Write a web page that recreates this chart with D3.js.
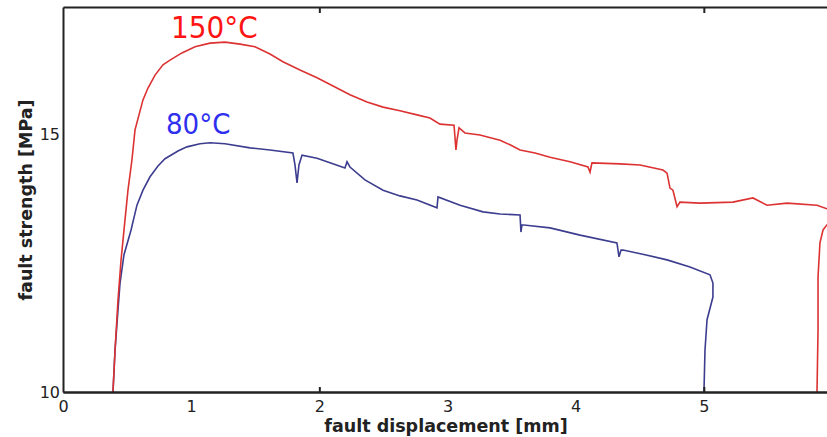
<!DOCTYPE html>
<html>
<head>
<meta charset="utf-8">
<script src="https://cdn.jsdelivr.net/npm/d3@7"></script>
<style>
  body { margin: 0; background: #fff; }
  svg { display: block; }
  .frame path, .frame line { stroke: #222; stroke-width: 2; }
  .tick text { font-family: "DejaVu Sans", sans-serif; font-size: 16px; fill: #222; }
</style>
</head>
<body>
<div id="chart"></div>
<script>
// fault strength vs displacement [mm, MPa]
const curve150 = [
  [0.390, 10.00], [0.406, 10.81], [0.429, 11.78], [0.453, 12.56], [0.476, 13.14],
  [0.507, 13.91], [0.538, 14.50], [0.562, 15.08], [0.593, 15.37], [0.624, 15.66],
  [0.663, 15.89], [0.718, 16.14], [0.780, 16.34], [0.835, 16.43], [0.928, 16.57],
  [1.030, 16.69], [1.147, 16.76], [1.264, 16.78], [1.381, 16.74], [1.498, 16.69],
  [1.615, 16.55], [1.716, 16.40], [1.849, 16.24], [1.982, 16.09], [2.107, 15.93],
  [2.239, 15.76], [2.372, 15.62], [2.497, 15.52], [2.629, 15.45], [2.762, 15.37],
  [2.863, 15.31], [2.941, 15.19], [3.051, 15.17], [3.066, 14.69], [3.074, 14.88],
  [3.090, 15.12], [3.136, 15.02], [3.253, 14.98], [3.410, 14.88], [3.488, 14.79],
  [3.566, 14.69], [3.683, 14.63], [3.800, 14.55], [3.956, 14.46], [4.096, 14.36],
  [4.112, 14.26], [4.127, 14.44], [4.346, 14.42], [4.502, 14.40], [4.681, 14.30],
  [4.713, 14.24], [4.736, 13.95], [4.759, 13.91], [4.791, 13.59], [4.814, 13.68],
  [4.970, 13.66], [5.227, 13.68], [5.383, 13.76], [5.493, 13.62], [5.649, 13.66],
  [5.883, 13.62], [5.961, 13.55], [6.000, 13.52]
];

// second red trace starting at the right edge
const curve150b = [
  [5.883, 10.00], [5.891, 11.20], [5.891, 12.23], [5.906, 12.89],
  [5.930, 13.14], [5.961, 13.24], [6.000, 13.29]
];

const curve80 = [
  [0.390, 10.00], [0.406, 10.81], [0.429, 11.59], [0.445, 12.11], [0.476, 12.66],
  [0.531, 13.14], [0.577, 13.62], [0.624, 13.91], [0.679, 14.17], [0.741, 14.38],
  [0.796, 14.52], [0.897, 14.67], [0.967, 14.75], [1.069, 14.81], [1.147, 14.83],
  [1.264, 14.81], [1.459, 14.73], [1.615, 14.69], [1.794, 14.63], [1.810, 14.40],
  [1.826, 14.05], [1.841, 14.40], [1.865, 14.59], [1.982, 14.53], [2.083, 14.44],
  [2.200, 14.34], [2.216, 14.46], [2.239, 14.36], [2.356, 14.11], [2.497, 13.91],
  [2.629, 13.80], [2.762, 13.72], [2.918, 13.57], [2.926, 13.78], [3.098, 13.62],
  [3.277, 13.49], [3.410, 13.45], [3.566, 13.43], [3.573, 13.10], [3.581, 13.24],
  [3.800, 13.18], [4.034, 13.04], [4.322, 12.89], [4.338, 12.62], [4.354, 12.75],
  [4.369, 12.75], [4.541, 12.66], [4.713, 12.56], [4.892, 12.42], [5.048, 12.27],
  [5.071, 12.11], [5.071, 11.84], [5.025, 11.40], [5.009, 10.81], [5.001, 10.00]
];

const xTicks = [0, 1, 2, 3, 4, 5];
const yTicks = [10, 15];
const tickMarks = [2, 5];

const width = 827;
const height = 437;
const margin = { top: 7, right: -5, bottom: 45, left: 63 };

const svg = d3.select('#chart')
  .append('svg')
  .attr('width', width)
  .attr('height', height);

const x = d3.scaleLinear()
  .domain([0, 6])
  .range([margin.left, width - margin.right]);

const y = d3.scaleLinear()
  .domain([10, 17.46])
  .range([height - margin.bottom, margin.top]);

const line = d3.line()
  .x(d => x(d[0]))
  .y(d => y(d[1]));

svg.append('path')
  .datum(curve80)
  .attr('d', line)
  .attr('fill', 'none')
  .attr('stroke', '#3d3d8f')
  .attr('stroke-width', 1.6);

svg.append('path')
  .datum(curve150)
  .attr('d', line)
  .attr('fill', 'none')
  .attr('stroke', '#dc3232')
  .attr('stroke-width', 1.6);

svg.append('path')
  .datum(curve150b)
  .attr('d', line)
  .attr('fill', 'none')
  .attr('stroke', '#dc3232')
  .attr('stroke-width', 1.6);

// axes & frame
svg.append('g')
  .attr('class', 'frame')
  .attr('transform', `translate(0,${y(10)})`)
  .call(d3.axisBottom(x).tickValues(xTicks).tickSize(0).tickPadding(9).tickFormat(d3.format('d')));

svg.append('g')
  .attr('class', 'frame')
  .attr('transform', `translate(0,${y(10)})`)
  .call(d3.axisBottom(x).tickValues(tickMarks).tickSizeInner(-5).tickSizeOuter(0).tickFormat(''));

svg.append('g')
  .attr('class', 'frame')
  .attr('transform', `translate(0,${y.range()[1]})`)
  .call(d3.axisTop(x).tickValues(tickMarks).tickSizeInner(-6).tickSizeOuter(0).tickFormat(''));

svg.append('g')
  .attr('class', 'frame')
  .attr('transform', `translate(${x(0)},0)`)
  .call(d3.axisLeft(y).tickValues(yTicks).tickSize(0).tickPadding(3).tickFormat(d3.format('d')));

svg.selectAll('.frame .domain').attr('stroke-width', 2);

// axis titles
svg.append('text')
  .attr('x', 446)
  .attr('y', 432)
  .attr('text-anchor', 'middle')
  .style('font-family', '"DejaVu Sans", sans-serif')
  .style('font-weight', 'bold')
  .style('font-size', '17.5px')
  .style('fill', '#222')
  .text('fault displacement [mm]');

svg.append('text')
  .attr('transform', 'translate(32,200) rotate(-90)')
  .attr('text-anchor', 'middle')
  .style('font-family', '"DejaVu Sans", sans-serif')
  .style('font-weight', 'bold')
  .style('font-size', '17.5px')
  .style('fill', '#222')
  .text('fault strength [MPa]');

// curve labels
svg.append('text')
  .attr('x', 171)
  .attr('y', 38)
  .style('font-family', '"DejaVu Sans Condensed", "DejaVu Sans", sans-serif')
  .style('font-size', '31px')
  .style('fill', '#ff1414')
  .text('150°C');

svg.append('text')
  .attr('x', 166)
  .attr('y', 134)
  .style('font-family', '"DejaVu Sans Condensed", "DejaVu Sans", sans-serif')
  .style('font-size', '29px')
  .style('fill', '#2f2ff0')
  .text('80°C');
</script>
</body>
</html>
